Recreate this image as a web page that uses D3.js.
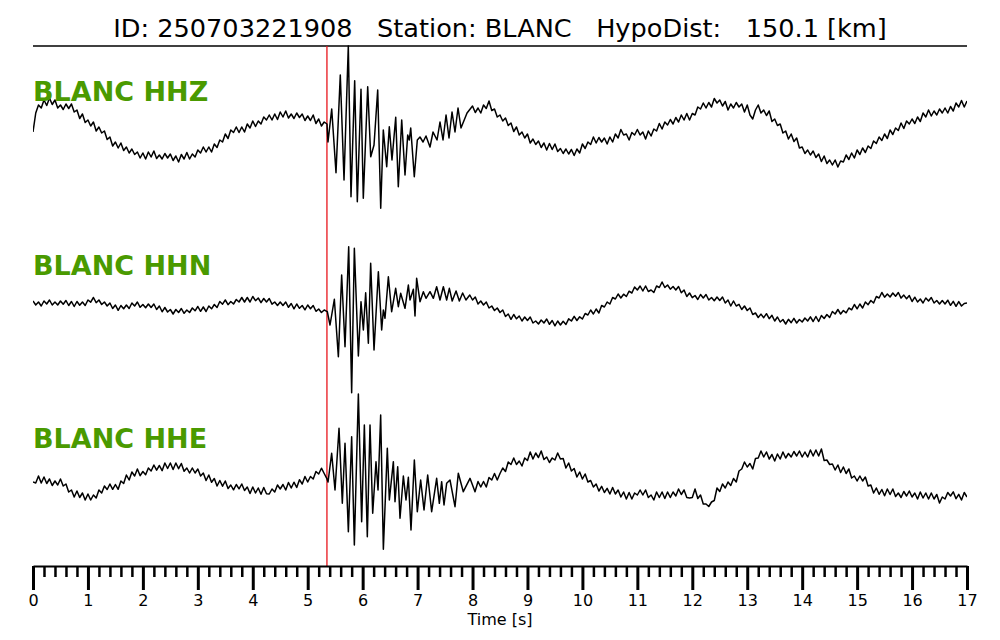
<!DOCTYPE html>
<html><head><meta charset="utf-8">
<script src="https://cdn.jsdelivr.net/npm/d3@7"></script>
<style>body{margin:0;background:#fff} text{font-family:"DejaVu Sans",sans-serif}</style>
</head><body><svg id="c" width="1000" height="640"></svg>
<script>
// ---- data (times in s, amplitudes in relative counts) ----
const titleText = "ID: 250703221908   Station: BLANC   HypoDist:   150.1 [km]";
const channels = ["BLANC HHZ", "BLANC HHN", "BLANC HHE"];
const pickTime = 5.35;
const majorTicks = [0,1,2,3,4,5,6,7,8,9,10,11,12,13,14,15,16,17];
const xLabel = "Time [s]";
const sampleStep = 0.05;   // s, sampling of the noise segments

// HHZ
const hhzPre = [
-7,12,20,17,25,19.5,27,20.5,25,17,
20,15.5,21,16.5,21,13,15,6.5,11,2.5,
5,-1,3,-6,-2,-8,-6,-14.5,-12,-21,
-17,-23,-18,-25.5,-22,-28,-24,-29.5,-27,-33,
-28,-34,-27,-32,-26,-33.5,-30,-34,-28.5,-33,
-29,-35.5,-31,-37,-29.5,-34,-27.5,-34,-29,-32,
-25,-28,-22,-27,-22,-27,-19,-22.5,-15,-17,
-9,-13.5,-5,-7.5,-2,-7.5,-2,-7,1,-3,
4,-1.5,4,1,8,5,10,5,11,5.5,
13,8,14,7,11,6.5,12,7.5,11,4.5,
9,4.5,10,1.5,6,-1,3];
const hhzWave = [
[5.351,1],[5.369,-17],[5.437,16],[5.515,-47.7],[5.593,50],[5.661,-55],[5.739,79],[5.788,-71.7],
[5.855,44.3],[5.903,-76.7],[5.970,35.7],[6.012,-73.3],[6.092,38.3],[6.147,-31.7],[6.207,-20],
[6.274,35],[6.329,-83.3],[6.376,-5],[6.438,-41.7],[6.485,-1.7],[6.534,-35],[6.602,7.7],[6.649,-61.7],
[6.711,5],[6.771,-50],[6.820,-10],[6.849,-15],[6.875,-3],[6.940,-51.7],[6.995,-15],[7.044,-12],
[7.099,-17],[7.153,-11],[7.226,-22],[7.281,-7],[7.354,-15],[7.408,3],[7.463,-15],[7.518,10],
[7.572,-13],[7.627,13],[7.681,-7],[7.736,17],[7.790,-3],[7.9,12]];
const hhzPostStart = 8.0;
const hhzPost = [
19,12.5,17,12,20,16.5,24,14.5,16,8,
10,4,7,-0.5,2,-6.5,-2,-10,-7,-13,
-9,-18,-14,-19.5,-16,-22.5,-18,-25,-18.5,-24.5,
-19,-26.5,-23.5,-28.5,-24,-29,-24.5,-30.5,-24,-28,
-19,-23.5,-17,-19.5,-12,-18,-12.5,-17,-13,-19,
-12,-17,-9,-13,-4.5,-10,-9,-15,-7.5,-10,
-4.5,-10,-7,-14,-6,-11,-4,-6,1.5,-4,
3,0,5.5,1,7.5,3,10,5,11.5,5,
11.5,10,18,16,22,17,22.5,18,26.5,22,
25,19,23.5,15,21,17,22.5,18,21,13,
20,10,6,15,20,12,15,9.5,14,3.5,
6,-0.5,1,-8,-6,-14,-9,-16.5,-13,-23,
-22,-28.5,-25,-30,-26,-32.5,-29,-36.5,-31,-38.5,
-35,-40,-35,-42,-36,-37,-30,-34.5,-28,-33,
-25,-29.5,-23,-27.5,-21,-23.5,-16,-18.5,-12,-15.5,
-9,-13.5,-5,-9.5,-3,-5.5,2,-3.5,4,1,
6,1.5,8,3.5,12,8,15,9,14,10,
16,12,17,12,18.5,14,22,18,24.5,18,
24];

// HHN
const hhnPre = [
4,0,3,-1,4,1,5,0,3,0,
4,0.8,4.5,-0.5,3.5,-1.5,3.5,-0.2,3,-0.5,
5,2.8,7.5,2.3,5,0.5,3,-1,2,-3.5,
0,-5.3,-0.5,-3.8,0,-3.5,2,-1,3,-2.3,
0.5,-2.8,1,-2.5,1,-4.5,-1,-6.8,-2.5,-7,
-4.5,-9,-4.5,-7.5,-3.5,-8.3,-5,-7.5,-3,-5.8,
-1.5,-6.3,-2,-6.5,-1,-3.8,0.5,-2.5,3.5,0.8,
5,0.3,3.5,1,5.5,3,7.5,3,7.5,3,
8.5,4.3,7,2.3,6.5,3,6.5,0.8,3,-0.5,
3,-0.5,3,-2.3,1.5,-3.8,1,-3.3,-0.5,-4.8,
0,-3.8,-0.5,-6.3,-4,-7.5,-5];
const hhnWave = [
[5.357,-6.7],[5.406,-20],[5.485,5.7],[5.558,-51.7],[5.618,30],[5.679,-41.7],[5.746,58.3],[5.800,-87.7],
[5.849,56.7],[5.922,-51],[5.970,3.3],[6.013,-25],[6.055,12.3],[6.104,-38.3],[6.146,41.7],[6.207,-45],
[6.286,33.3],[6.346,-25],[6.377,-5],[6.407,-13.3],[6.468,28.3],[6.528,-6.7],[6.601,16.7],[6.650,-1.7],
[6.692,11.7],[6.771,-3.3],[6.832,20],[6.862,5],[6.923,15.7],[6.953,-11],[6.983,26.7],[7.044,3.3],
[7.105,13.3],[7.153,6.7],[7.226,13.3],[7.287,6.7],[7.347,18.3],[7.408,5],[7.469,18.3],[7.529,5],
[7.578,16.7],[7.63,4],[7.70,14],[7.76,4],[7.82,12],[7.88,5],[7.95,10]];
const hhnPostStart = 8.0;
const hhnPost = [
5,8,1,4,0,3,-3,-1,-5.5,-3,
-7.5,-5,-11.5,-9,-14.3,-9.5,-13.8,-11,-16,-12,
-15.5,-12,-18,-16,-19,-15,-18,-14,-19.3,-15.5,
-20.8,-16,-20,-16.3,-19.5,-13.8,-16,-11.3,-15.5,-11.8,
-14,-8.5,-10,-5,-9,-4,-8,-0.5,-2,3,
1,7.5,6,11,7,10.8,8.5,13.8,12,18,
15,19,14,19,13.5,15,12.5,19,17.5,23,
17.5,20,15.8,18.5,15,18.5,12.3,15,8.5,12,
7.3,9.5,5.5,10.5,7,10.5,5,7.5,4.3,8,
4.5,8,2,5,-1,4,-1,0.7,-4.5,-1,
-5.5,-3,-9.5,-8,-12.5,-9.1,-12.7,-8.7,-13.7,-10.3,
-16,-12,-17,-14.5,-19,-14.3,-17.7,-13.3,-18,-14.5,
-17,-13,-16,-11.8,-16.5,-11.5,-16.5,-10.5,-13.5,-9.5,
-12.5,-6.5,-9,-4.5,-9,-5.5,-7.8,-3,-4.8,0.5,
-3.8,1,-3,3,0.3,4.5,2,8.5,7,12.5,
7.8,11,8,12,8.8,12.5,6.9,9.9,6.3,9.4,
3.5,7.8,3,6,2,7,4,7.5,2,4.5,
1,4.5,1,4.8,-0.3,3.7,-1.3,3.4,-1,1.5,
2];

// HHE
const hhePre = [
3,2,9,2,8,1.5,6,-0.5,4,0,
6,-1,1,-7,-5,-12,-6,-12.5,-8,-15,
-9,-15,-10,-13,-5,-8,-1,-4.5,1,-4.3,
0.5,-4.3,4,1.5,10,5,13,9,16,9.3,
13.5,10.3,17,14,20,14.8,19.5,14.3,22,16.5,
22,15.5,22,16.3,21.5,13.8,17,12,17,12,
16,9,12,4.5,10,2.8,6.5,-1,4.5,-1.2,
4,-3.5,0,-4.8,0.5,-3.8,1,-5.5,-2,-8.5,
-2,-8,-3,-9.3,-2.5,-8.8,-9,-4,-7,0,
-4,0.5,-5,2.5,-3,2.8,-2.5,5.3,1,8.5,
3,8.5,6,13.5,11,16.8,11.5];
const hheWave = [
[5.346,6.7],[5.37,3],[5.436,31.7],[5.497,-5],[5.570,56.7],[5.630,-18.3],[5.679,41.7],[5.740,-46.7],
[5.800,48.3],[5.849,-60],[5.922,91],[5.982,-36.7],[6.031,60],[6.085,-51.7],[6.134,60],[6.183,-28.3],
[6.243,23.3],[6.280,-5],[6.328,70],[6.377,-64.3],[6.449,36.7],[6.486,-15],[6.559,23.3],[6.589,-16.7],
[6.638,18.3],[6.680,-33.3],[6.741,9],[6.789,-15],[6.832,7.7],[6.880,-45],[6.941,25],[6.995,-26.7],
[7.056,5],[7.117,-25],[7.184,10],[7.256,-26.7],[7.347,6.7],[7.396,-18.3],[7.438,3.3],[7.481,-20],
[7.529,1.7],[7.59,5],[7.681,-21.7],[7.741,11.7],[7.832,-6.7],[7.954,6.7],[8.045,-6.7]];
const hhePostStart = 8.1;
const hhePost = [
3.5,-2,3.5,-2,7.5,5,11.5,5,11.5,17,
13.5,23,20.5,27,20.5,24,19,27,24.5,33,
26,32,27.5,34,25.5,28,22.5,27,25,32,
26,26.5,17,22,14,16.5,8,13,6,11,
3,4.5,-2,1,-6,-1.3,-7.5,-3.3,-9,-2.5,
-9,-5,-12,-7,-14,-7.5,-14,-8,-10,-5,
-10,-5,-12.5,-10,-15,-7,-12.5,-7,-13.5,-7,
-12.5,-7,-11,-4,-9.5,-5,-12.5,-13,-12.5,-4,
-13.5,-10,-19,-19,-21.5,-17,-15.5,-3,-6.5,1,
-3,3,-0.5,6.5,3,14,16,23,18,21.5,
16,26.5,27,34,28,33,26,30.5,24,31,
26,33,27,31.5,28,33.5,29,34,28,33,
28,35,29,35,29,36,24.5,25,20.5,21,
15,20,12.5,18,11.5,16,7,9,4,9,
4,8,-1,0,-8,-3,-9.3,-4.5,-10.8,-4,
-9.5,-4,-11.5,-8,-12.5,-6.5,-11,-6,-12,-8,
-14,-7,-13,-8,-14,-8,-14,-9.5,-18,-12,
-14,-7.5,-11,-6.8,-13.7,-9.3,-15,-7.5,-12];

function assemble(pre, wave, post, postStart) {
  return [
    ...pre.map((v, i) => [i * sampleStep, v]),
    ...wave,
    ...post.map((v, i) => [postStart + i * sampleStep, v])
  ];
}
const traces = [
  assemble(hhzPre, hhzWave, hhzPost, hhzPostStart),
  assemble(hhnPre, hhnWave, hhnPost, hhnPostStart),
  assemble(hhePre, hheWave, hhePost, hhePostStart)
];

// ---- layout ----
const svg = d3.select("#c");
svg.append("rect").attr("width",1000).attr("height",640).attr("fill","#fff");
const x = d3.scaleLinear().domain([0,17]).range([33,967]);
const baselines = [125, 305, 485];
const labelY = [101, 275, 448];

svg.append("defs").append("clipPath").attr("id","clip")
  .append("rect").attr("x",33).attr("y",0).attr("width",934).attr("height",640);

svg.append("text").attr("x",500).attr("y",37).attr("text-anchor","middle")
  .attr("font-size",25.6).style("white-space","pre").attr("xml:space","preserve").text(titleText);

svg.append("line").attr("x1",33).attr("x2",967).attr("y1",46).attr("y2",46)
  .attr("stroke","#000").attr("stroke-width",1.5);

// red pick line
svg.append("line").attr("x1",x(pickTime)).attr("x2",x(pickTime)).attr("y1",46).attr("y2",566)
  .attr("stroke","#e8141b").attr("stroke-width",1.3);

traces.forEach((tr,i) => {
  const y = d3.scaleLinear().domain([-100,100]).range([baselines[i]+100, baselines[i]-100]);
  const line = d3.line().x(d=>x(d[0])).y(d=>y(d[1]));
  svg.append("path").datum(tr).attr("d",line).attr("clip-path","url(#clip)")
    .attr("fill","none").attr("stroke","#000").attr("stroke-width",1.5).attr("stroke-linejoin","round");
  svg.append("text").attr("x",33).attr("y",labelY[i]).attr("font-size",27).attr("font-weight","bold")
    .attr("fill","#4a9a00").text(channels[i]);
});

// axis
const minorTicks = d3.range(0, 86).map(k => k*0.2).filter(v => v <= 17 && Math.abs(v - Math.round(v)) > 1e-6);
const gMinor = svg.append("g").attr("transform","translate(0,566)")
  .call(d3.axisBottom(x).tickValues(minorTicks).tickSize(11).tickSizeOuter(0).tickFormat(""));
gMinor.select(".domain").remove();
gMinor.selectAll(".tick line").attr("stroke-width",2.5);
const gMajor = svg.append("g").attr("transform","translate(0,566)")
  .call(d3.axisBottom(x).tickValues(majorTicks).tickSize(24).tickSizeOuter(0).tickPadding(5).tickFormat(d3.format("d")));
gMajor.select(".domain").attr("stroke-width",2);
gMajor.selectAll(".tick line").attr("stroke-width",3);
gMajor.selectAll(".tick text").attr("font-size",16).attr("font-family","DejaVu Sans").attr("fill","#000");
gMajor.attr("font-size",16);

svg.append("text").attr("x",500).attr("y",625).attr("text-anchor","middle").attr("font-size",16).text(xLabel);
</script></body></html>
